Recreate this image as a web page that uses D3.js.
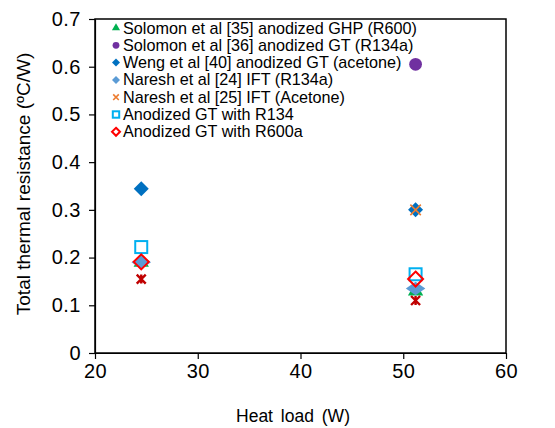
<!DOCTYPE html>
<html>
<head>
<meta charset="utf-8">
<script src="https://cdn.jsdelivr.net/npm/d3@7"></script>
<style>
  body { margin: 0; background: #fff; }
  text { font-family: "Liberation Sans", Arial, sans-serif; fill: #000; }
</style>
</head>
<body>
<div id="chart"></div>
<script>
// heat load (W) for the two test points
const heatLoad = [24.5, 51.2];

// thermal resistance (°C/W) per series, null = no point
const solomonGHP = [0.19, 0.13];
const solomonGT = [null, 0.605];
const wengAcetone = [0.344, 0.30];
const nareshR134a = [0.19, 0.135];
const nareshAcetone = [null, 0.30];
const anodR134 = [0.222, 0.165];
const anodR600a = [0.191, 0.155];
const extraStar = [0.155, 0.11];

const xTicks = [20, 30, 40, 50, 60];
const yTicks = [0, 0.1, 0.2, 0.3, 0.4, 0.5, 0.6, 0.7];

const series = [
  { name: "Solomon et al [35] anodized GHP (R600)", values: solomonGHP, shape: "triangle", color: "#00B050", legend: true },
  { name: "Solomon et al [36] anodized GT (R134a)", values: solomonGT, shape: "circle", color: "#7030A0", legend: true },
  { name: "Weng et al [40] anodized GT (acetone)", values: wengAcetone, shape: "diamond", color: "#0070C0", legend: true },
  { name: "Naresh et al [24] IFT (R134a)", values: nareshR134a, shape: "diamond", color: "#5B9BD5", legend: true, big: true },
  { name: "Naresh et al [25] IFT (Acetone)", values: nareshAcetone, shape: "x", color: "#ED7D31", legend: true },
  { name: "Anodized GT with R134", values: anodR134, shape: "square", color: "#00B0F0", legend: true },
  { name: "Anodized GT with R600a", values: anodR600a, shape: "odiamond", color: "#FF0000", legend: true },
  { name: "", values: extraStar, shape: "star", color: "#C00000", legend: false }
];

const width = 555, height = 428;
const margin = { top: 19, right: 49, bottom: 75, left: 95 };
const w = width - margin.left - margin.right;
const h = height - margin.top - margin.bottom;

const svg = d3.select("#chart").append("svg")
  .attr("width", width)
  .attr("height", height);

const g = svg.append("g")
  .attr("transform", `translate(${margin.left},${margin.top})`);

const xScale = d3.scaleLinear().domain([20, 60]).range([0, w]);
const yScale = d3.scaleLinear().domain([0, 0.7]).range([h, 0]);

// frame (top and right)
g.append("rect")
  .attr("width", w).attr("height", h)
  .style("fill", "none").style("stroke", "#000").style("stroke-width", 1.5);

const xaxis = d3.axisBottom(xScale).tickValues(xTicks).tickSize(6).tickSizeOuter(0).tickPadding(5);
const yaxis = d3.axisLeft(yScale).tickValues(yTicks).tickSize(6).tickSizeOuter(0).tickPadding(8)
  .tickFormat(d => d === 0 ? "0" : d3.format(".1f")(d));

g.append("g")
  .attr("class", "x-axis")
  .attr("transform", `translate(0,${h})`)
  .call(xaxis)
  .selectAll("text")
  .style("font-size", "20px")
  .style("letter-spacing", "0.5px");

g.append("g")
  .attr("class", "y-axis")
  .call(yaxis)
  .selectAll("text")
  .style("font-size", "20px")
  .style("letter-spacing", "0.5px");

g.selectAll(".domain, .tick line").style("stroke", "#000").style("stroke-width", 1.2);

// axis titles
svg.append("text")
  .attr("x", 293)
  .attr("y", 422)
  .attr("text-anchor", "middle")
  .style("font-size", "17.5px")
  .style("word-spacing", "3px")
  .text("Heat load (W)");

svg.append("text")
  .attr("transform", `translate(30,184) rotate(-90)`)
  .attr("text-anchor", "middle")
  .style("font-size", "19px")
  .text("Total thermal resistance (ºC/W)");

// marker drawing
function drawMarker(sel, s, size) {
  const r = size / 2;
  if (s.shape === "triangle") {
    sel.append("path").attr("d", d3.symbol(d3.symbolTriangle, size * size * 0.45)())
      .style("fill", s.color);
  } else if (s.shape === "circle") {
    sel.append("circle").attr("r", r * 0.85).style("fill", s.color);
  } else if (s.shape === "diamond") {
    const rx = s.big ? r * 1.3 : r, ry = s.big ? r * 0.9 : r;
    sel.append("path").attr("d", `M0,${-ry}L${rx},0L0,${ry}L${-rx},0Z`)
      .style("fill", s.color);
  } else if (s.shape === "odiamond") {
    sel.append("path").attr("d", `M0,${-r}L${r},0L0,${r}L${-r},0Z`)
      .style("fill", "none").style("stroke", s.color).style("stroke-width", 2);
  } else if (s.shape === "square") {
    sel.append("rect").attr("x", -r * 0.8).attr("y", -r * 0.8)
      .attr("width", r * 1.6).attr("height", r * 1.6)
      .style("fill", "#fff").style("stroke", s.color).style("stroke-width", 2);
  } else if (s.shape === "x") {
    const a = r * 0.7;
    sel.append("path").attr("d", `M${-a},${-a}L${a},${a}M${-a},${a}L${a},${-a}`)
      .style("stroke", s.color).style("stroke-width", 1.6);
  } else if (s.shape === "star") {
    const a = r * 0.6;
    sel.append("path").attr("d", `M${-a},${-a}L${a},${a}M${-a},${a}L${a},${-a}M0,${-a}L0,${a}`)
      .style("stroke", s.color).style("stroke-width", 2.4);
  }
}

series.forEach(s => {
  s.values.forEach((v, i) => {
    if (v === null) return;
    const m = g.append("g")
      .attr("transform", `translate(${xScale(heatLoad[i])},${yScale(v)})`);
    drawMarker(m, s, 15);
  });
});

// legend
const legend = g.append("g").attr("transform", "translate(21,9)");
series.filter(s => s.legend).forEach((s, i) => {
  const row = legend.append("g").attr("transform", `translate(0,${i * 17.3})`);
  const mk = row.append("g");
  drawMarker(mk, Object.assign({}, s, { big: false }), 8);
  row.append("text")
    .attr("x", 7)
    .attr("y", 5.5)
    .style("font-size", "16.2px")
    .text(s.name);
});
</script>
</body>
</html>
